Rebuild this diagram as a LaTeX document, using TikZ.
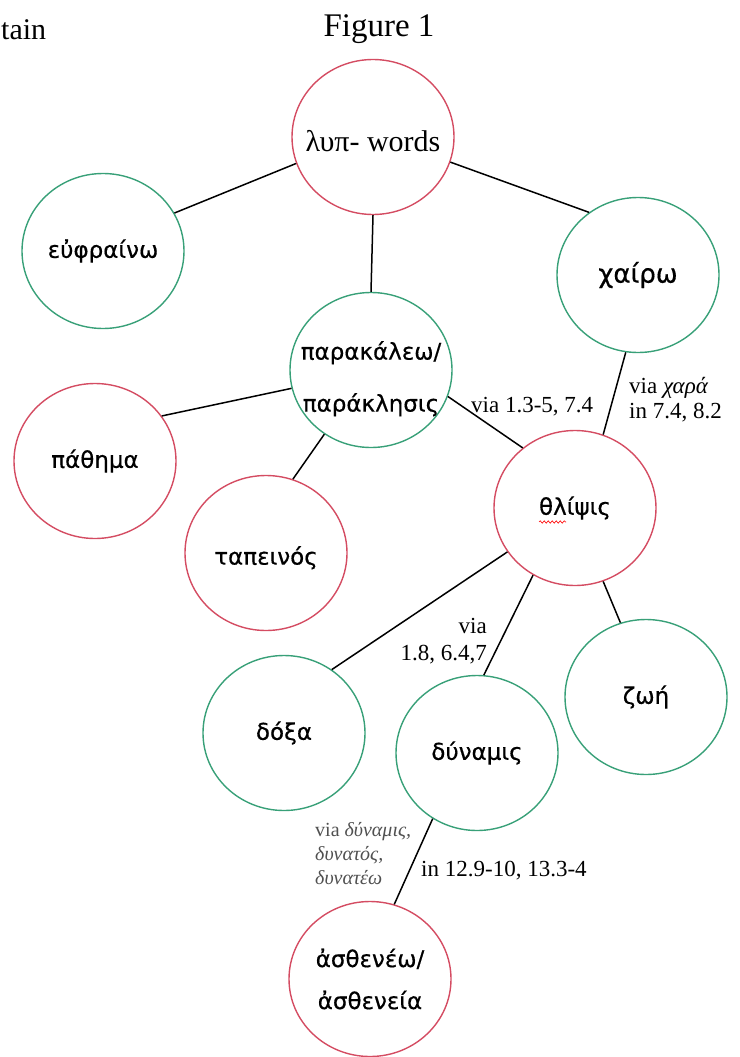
\documentclass[tikz,border=0pt]{standalone}
\usepackage{fontspec}
\setmainfont{Liberation Serif}
\newfontfamily\greeksans[FakeBold=0.5]{DejaVu Sans}
\usetikzlibrary{shapes}
\usetikzlibrary{decorations.pathmorphing}
\definecolor{wordred}{RGB}{212,76,98}
\definecolor{wordgreen}{RGB}{56,160,120}
\definecolor{notegray}{RGB}{80,80,80}

\begin{document}
\begin{tikzpicture}
    [%
        x=1pt,y=-1pt,%
        word/.style={%
            draw,%
            ellipse,%
            line width=1.4pt,%
            minimum width=162pt,%
            minimum height=155pt,%
            inner ysep=0pt,%
            inner xsep=-20pt,%
            align=center,%
            font=\greeksans\fontsize{23}{28}\selectfont%
        },%
        sorrow/.style={word,draw=wordred},%
        joy/.style={word,draw=wordgreen},%
        note/.style={%
            inner sep=0pt,%
            font=\fontsize{23}{25}\selectfont%
        },%
        link/.style={line width=1.5pt},%
        squiggle/.style={%
            draw=red,%
            line width=0.6pt,%
            decorate,%
            decoration={snake,amplitude=1.2pt,segment length=4pt}%
        }%
    ]%
%
    \useasboundingbox (0,0) rectangle (739,1057);
    \node[anchor=base west,inner sep=0pt,font=\fontsize{30}{36}\selectfont] (tain) at (1,40) {tain};
    \node[anchor=base,font=\fontsize{33}{40}\selectfont] (figure) at (379,37) {Figure 1};
%
    % the word circles
    \node[sorrow,font=\fontsize{30}{36}\selectfont] (lyp) at (373,137) {\rule{0pt}{30pt}λυπ- words};
    \node[joy] (euph) at (103,251) {εὐφραίνω};
    \node[joy,font=\greeksans\fontsize{26}{30}\selectfont] (chairo) at (638,275) {χαίρω};
    \node[joy] (parak) at (371,370) {\rule{0pt}{36pt}παρακάλεω/\\[24pt]παράκλησις};
    \node[sorrow] (pathema) at (95,461) {πάθημα};
    \node[sorrow] (tapeinos) at (266,553) {\rule{0pt}{28pt}ταπεινός};
    \node[sorrow] (thlipsis) at (575,508) {θλίψις};
    \node[joy] (zoe) at (646,697) {ζωή};
    \node[joy] (doxa) at (284,733) {δόξα};
    \node[joy] (dynamis) at (477,753) {δύναμις};
    \node[sorrow] (asthenei) at (370,979) {ἀσθενέω/\\[14pt]ἀσθενεία};
    \draw[squiggle] ([xshift=-36pt,yshift=-14pt]thlipsis.center) -- ++(27,0);
%
    % the links
    \foreach \a/\b in {%
        lyp.-161/euph.28,%
        lyp.-18/chairo.128,%
        lyp.south/parak.north,%
        parak.193/pathema.34,%
        parak.-126/tapeinos.70,%
        parak.-19/thlipsis.131,%
        chairo.-99/thlipsis.69,%
        thlipsis.213/doxa.53,%
        thlipsis.238/dynamis.85,%
        thlipsis.-69/zoe.109,%
        dynamis.236/asthenei.72%
    }%
        \draw[link] (\a) -- (\b);
%
    % the notes on the links
    \node[note,anchor=base west] (via-parak) at (471,412) {via 1.3-5, 7.4};
    \node[note,anchor=west,align=left] (via-chara) at (629,400) {via {\itshape χαρά}\\in 7.4, 8.2};
    \node[note,anchor=east,align=right,font=\fontsize{23}{27}\selectfont] (via-doxa) at (487,641) {via\\1.8, 6.4,7};
    \node[note,anchor=west,align=left,text=notegray,font=\fontsize{20}{24}\selectfont] (via-dynamis) at (315,854) {via {\itshape δύναμις,}\\{\itshape δυνατός,}\\{\itshape δυνατέω}};
    \node[note,anchor=base west] (in-dynamis) at (421,876) {in 12.9-10, 13.3-4};
\end{tikzpicture}
\end{document}
